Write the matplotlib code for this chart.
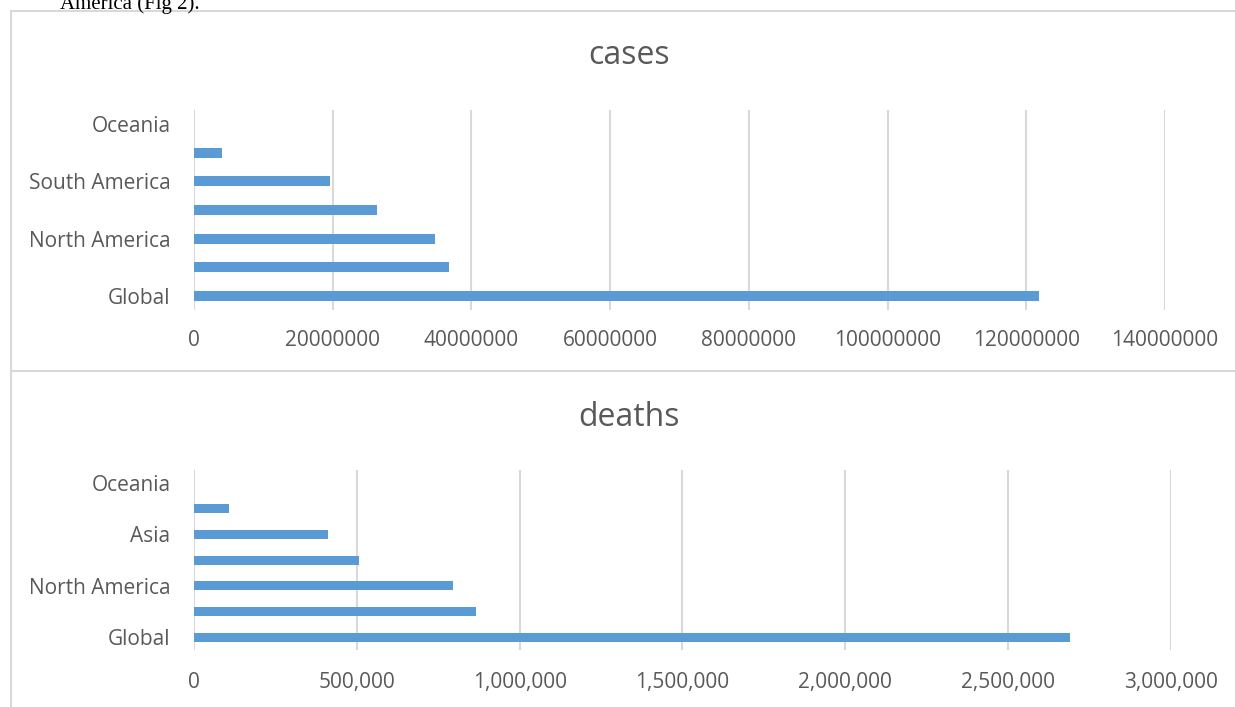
import matplotlib
matplotlib.use("Agg")
import matplotlib.pyplot as plt
from matplotlib.ticker import FuncFormatter
from matplotlib.lines import Line2D

# ---- data ----
cases_regions = ["Global", "Europe", "North America", "Asia", "South America", "Africa", "Oceania"]
cases_values = [121_800_000, 36_700_000, 34_800_000, 26_400_000, 19_600_000, 4_080_000, 37_000]
cases_ticks = [0, 20_000_000, 40_000_000, 60_000_000, 80_000_000, 100_000_000, 120_000_000, 140_000_000]

deaths_regions = ["Global", "Europe", "North America", "South America", "Asia", "Africa", "Oceania"]
deaths_values = [2_692_000, 866_000, 796_000, 506_000, 411_000, 108_000, 1_000]
deaths_ticks = [0, 500_000, 1_000_000, 1_500_000, 2_000_000, 2_500_000, 3_000_000]

W, H = 1235, 707
BAR = "#5b9bd5"
GRID = "#d9d9d9"
TXT = "#595959"
FONT = ["Open Sans", "DejaVu Sans"]

plt.rcParams['font.family'] = FONT

fig = plt.figure(figsize=(W / 100, H / 100), dpi=100)


def px_axes(x0, x1, y0, y1):
    return fig.add_axes([x0 / W, 1 - y1 / H, (x1 - x0) / W, (y1 - y0) / H])


def draw(ax, regions, values, ticks, fmt, xpad):
    pos = list(range(len(regions)))
    ax.barh(pos, values, height=0.35, color=BAR, zorder=3)
    ax.set_ylim(-0.5, len(regions) - 0.5)
    ax.set_xlim(ticks[0], ticks[-1])
    ax.set_xticks(ticks)
    ax.xaxis.set_major_formatter(FuncFormatter(fmt))
    ax.set_yticks(pos[::2])
    ax.set_yticklabels(regions[::2])
    ax.grid(axis='x', color=GRID, lw=1.5, zorder=0)
    ax.set_axisbelow(True)
    for s in ax.spines.values():
        s.set_visible(False)
    ax.tick_params(axis='both', length=0, labelsize=15, labelcolor=TXT)
    ax.tick_params(axis='y', pad=17)
    ax.tick_params(axis='x', pad=xpad)


ax1 = px_axes(194, 1165, 110, 310)
draw(ax1, cases_regions, cases_values, cases_ticks, lambda v, p: f"{int(v)}", 14.5)

ax2 = px_axes(194, 1170.7, 470, 650)
draw(ax2, deaths_regions, deaths_values, deaths_ticks, lambda v, p: f"{int(v):,}", 15.5)

fig.text(629 / W, 1 - 55 / H, "cases", ha='center', va='center', fontsize=23, color=TXT)
fig.text(629 / W, 1 - 417 / H, "deaths", ha='center', va='center', fontsize=23, color=TXT)

# chart frames
fig.add_artist(Line2D([11 / W, 11 / W], [1 - 11 / H, 0], color=GRID, lw=1.5, transform=fig.transFigure))
fig.add_artist(Line2D([11 / W, 1], [1 - 11 / H, 1 - 11 / H], color=GRID, lw=1.5, transform=fig.transFigure))
fig.add_artist(Line2D([11 / W, 1], [1 - 371 / H, 1 - 371 / H], color=GRID, lw=1.5, transform=fig.transFigure))

# cut-off text from the page above (also cut off in the reference)
fig.text(60 / W, 1 - 9 / H, "America (Fig 2).", ha='left', va='baseline', fontsize=15,
         family=["Liberation Serif", "DejaVu Serif"], color="black")

fig.savefig("out.png", dpi=100)
